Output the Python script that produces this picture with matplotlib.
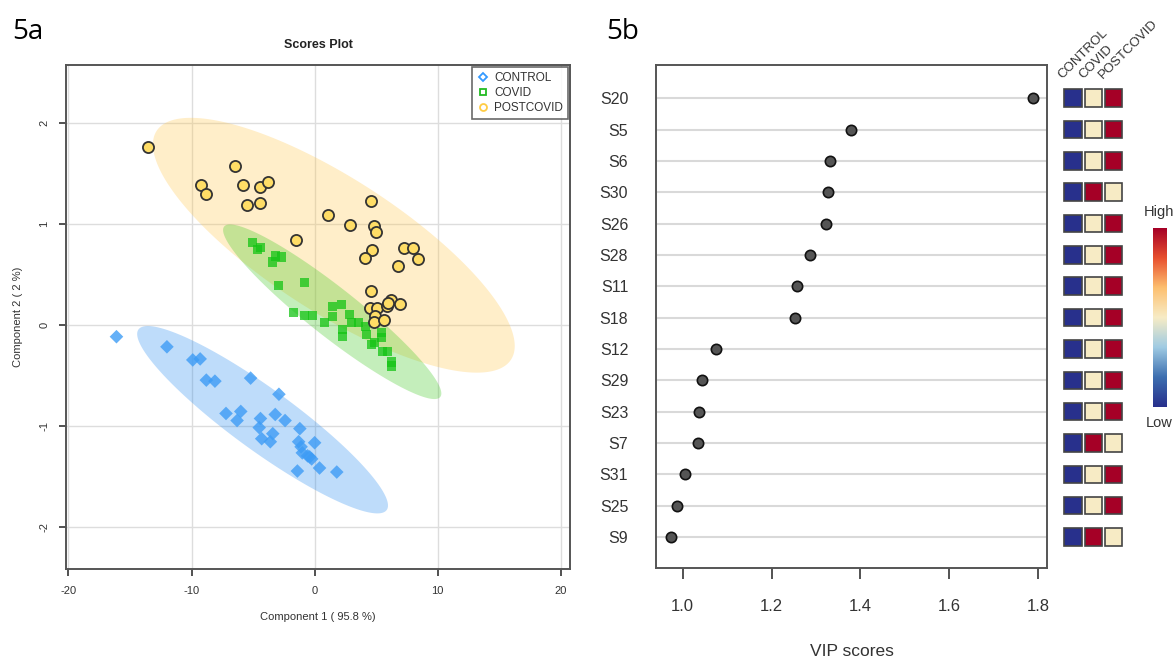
import numpy as np
import matplotlib
matplotlib.use('Agg')
import matplotlib.pyplot as plt
from matplotlib.lines import Line2D
from matplotlib.colors import LinearSegmentedColormap
from matplotlib.patches import Rectangle

plt.rcParams['font.family'] = ['Liberation Sans', 'DejaVu Sans']

# ---------------- Panel 5a data (PLS-DA scores) ----------------
control_x = [-16.1, -12.0, -9.9, -9.3, -8.8, -8.1, -5.2, -2.9, -7.2, -6.0, -6.3, -4.4,
             -3.2, -2.4, -4.5, -3.4, -4.3, -3.6, -1.2, -1.3, -1.1, -1.0, -0.57, -0.24,
             0.0, 0.4, -1.4, 1.8, -0.4]
control_y = [-0.12, -0.22, -0.35, -0.34, -0.55, -0.56, -0.53, -0.69, -0.88, -0.86, -0.95, -0.93,
             -0.89, -0.95, -1.02, -1.08, -1.13, -1.16, -1.03, -1.16, -1.21, -1.27, -1.30, -1.33,
             -1.17, -1.42, -1.45, -1.46, -1.31]

covid_x = [-5.04, -4.63, -4.4, -3.41, -2.68, -3.2, -2.93, -0.81, -1.71, -0.81, -0.16, 0.81,
           1.46, 1.46, 2.2, 2.85, 2.28, 2.28, 3.58, 4.15, 4.23, 4.88, 5.45, 5.45, 5.53, 5.93,
           6.26, 6.26, 3.0, 4.6]
covid_y = [0.81, 0.74, 0.76, 0.62, 0.67, 0.68, 0.39, 0.42, 0.12, 0.09, 0.09, 0.02,
           0.08, 0.18, 0.20, 0.10, -0.05, -0.12, 0.02, -0.02, -0.10, -0.18, -0.08, -0.13,
           -0.27, -0.27, -0.37, -0.41, 0.02, -0.20]

postcovid_x = [-13.5, -9.2, -8.8, -6.5, -5.85, -5.5, -4.4, -3.8, -4.4, -1.5, 1.1, 2.85,
               4.55, 4.8, 5.0, 4.7, 4.1, 7.3, 8.0, 8.4, 6.75, 4.55, 4.47, 5.04, 5.85, 6.18,
               6.0, 6.9, 4.9, 4.8, 5.6]
postcovid_y = [1.76, 1.38, 1.29, 1.57, 1.38, 1.18, 1.36, 1.41, 1.20, 0.84, 1.08, 0.99,
               1.22, 0.98, 0.92, 0.74, 0.66, 0.76, 0.76, 0.65, 0.58, 0.33, 0.16, 0.16, 0.18, 0.24,
               0.21, 0.20, 0.08, 0.03, 0.05]

group_names = ['CONTROL', 'COVID', 'POSTCOVID']
x_ticks_a = [-20, -10, 0, 10, 20]
y_ticks_a = [-2, -1, 0, 1, 2]

# ---------------- Panel 5b data (VIP scores) ----------------
features = ['S20', 'S5', 'S6', 'S30', 'S26', 'S28', 'S11', 'S18', 'S12', 'S29',
            'S23', 'S7', 'S31', 'S25', 'S9']
vip = [1.789, 1.378, 1.331, 1.326, 1.322, 1.287, 1.257, 1.253, 1.074, 1.043,
       1.036, 1.034, 1.006, 0.988, 0.973]
# relative group levels (0 = low, 0.5 = middle, 1 = high)
level_control = [0.0, 0.0, 0.0, 0.0, 0.0, 0.0, 0.0, 0.0, 0.0, 0.0, 0.0, 0.0, 0.0, 0.0, 0.0]
level_covid = [0.5, 0.5, 0.5, 1.0, 0.5, 0.5, 0.5, 0.5, 0.5, 0.5, 0.5, 1.0, 0.5, 0.5, 1.0]
level_postcovid = [1.0, 1.0, 1.0, 0.5, 1.0, 1.0, 1.0, 1.0, 1.0, 1.0, 1.0, 0.5, 1.0, 1.0, 0.5]
x_ticks_b = [1.0, 1.2, 1.4, 1.6, 1.8]


def conf_ellipse(x, y, n=300, chi2=5.991):
    x = np.asarray(x, float)
    y = np.asarray(y, float)
    cov = np.cov(x, y)
    vals, vecs = np.linalg.eigh(cov)
    t = np.linspace(0, 2 * np.pi, n)
    circ = np.vstack([np.cos(t), np.sin(t)]) * np.sqrt(chi2)
    pts = vecs @ (np.sqrt(vals)[:, None] * circ)
    return x.mean() + pts[0], y.mean() + pts[1]


W, H = 1174, 657
fig = plt.figure(figsize=(W / 100, H / 100), dpi=100)


def rect(l, t, r, b):
    return [l / W, 1 - b / H, (r - l) / W, (b - t) / H]


# ================= Panel a =================
ax = fig.add_axes(rect(66, 65, 570, 569))
ax.set_xlim(-20.2, 20.75)
ax.set_ylim(-2.42, 2.57)
for v in x_ticks_a:
    ax.axvline(v, color='#dddddd', lw=1.0, zorder=0)
for v in y_ticks_a:
    ax.axhline(v, color='#dddddd', lw=1.0, zorder=0)

ell_cols = [(0.16, 0.55, 0.94), (0.24, 0.78, 0.12), (1.0, 0.78, 0.30)]
groups = [(control_x, control_y), (covid_x, covid_y), (postcovid_x, postcovid_y)]
for (gx, gy), c in zip([groups[2], groups[1], groups[0]], [ell_cols[2], ell_cols[1], ell_cols[0]]):
    ex, ey = conf_ellipse(gx, gy)
    ax.fill(ex, ey, color=c, alpha=0.3, lw=0, zorder=1)

ax.scatter(control_x, control_y, marker='D', s=48, color='#3d9cf5', alpha=0.8,
           edgecolors='none', zorder=3)
ax.scatter(covid_x, covid_y, marker='s', s=44, color='#14c414', alpha=0.75,
           edgecolors='none', zorder=3)
ax.scatter(postcovid_x, postcovid_y, marker='o', s=64, color='#ffdd66',
           edgecolors='#333333', linewidths=1.3, zorder=4)

ax.set_xticks(x_ticks_a)
ax.set_xticklabels(['-20', '-10', '0', '10', '20'])
ax.set_yticks(y_ticks_a)
ax.set_yticklabels(['-2', '-1', '0', '1', '2'], rotation=90, va='center')
ax.tick_params(labelsize=8, colors='#333333', length=5, width=1.2, pad=7)
for s in ax.spines.values():
    s.set_color('#555555')
    s.set_linewidth(1.4)
ax.set_xlabel('Component 1 ( 95.8 %)', fontsize=8, color='#333333', labelpad=12)
ax.set_ylabel('Component 2 ( 2 %)', fontsize=8, color='#333333', labelpad=12)
ax.set_title('Scores Plot', fontsize=9, fontweight='bold', color='#222222', pad=12)

handles = [Line2D([], [], ls='none', marker='D', ms=4, mfc='none', mec='#3399ff', mew=1.3),
           Line2D([], [], ls='none', marker='s', ms=4, mfc='none', mec='#22bb22', mew=1.3),
           Line2D([], [], ls='none', marker='o', ms=5, mfc='none', mec='#ffcc44', mew=1.3)]
leg = ax.legend(handles, group_names, loc='upper right', fontsize=8.5, frameon=True,
                fancybox=False, borderaxespad=0.15, handletextpad=0.4, labelspacing=0.25,
                handlelength=1.0, borderpad=0.45)
leg.get_frame().set_edgecolor('#444444')
leg.get_frame().set_linewidth(1.2)
for t in leg.get_texts():
    t.set_color('#333333')

fig.text(12 / W, 1 - 32 / H, '5a', fontsize=20, family=['Open Sans', 'DejaVu Sans'],
         va='center', ha='left')
fig.text(606 / W, 1 - 32 / H, '5b', fontsize=20, family=['Open Sans', 'DejaVu Sans'],
         va='center', ha='left')

# ================= Panel b =================
n = len(features)
ypos = np.arange(n, 0, -1)  # S20 at top
bx = fig.add_axes(rect(656, 65, 1047, 568))
bx.set_xlim(0.940, 1.820)
bx.set_ylim(0.01, 16.06)
for yy in ypos:
    bx.axhline(yy, color='#d9d9d9', lw=1.5, zorder=0)
bx.scatter(vip, ypos, s=55, color='#555555', edgecolors='#111111', linewidths=1.2, zorder=3)
bx.set_yticks(ypos)
bx.set_yticklabels(features, fontsize=11.5, color='#333333')
bx.tick_params(axis='y', length=0, pad=20)
bx.set_xticks(x_ticks_b)
bx.set_xticklabels(['1.0', '1.2', '1.4', '1.6', '1.8'], fontsize=12, color='#333333')
bx.tick_params(axis='x', length=8, width=1.3, color='#444444', pad=14)
for s in bx.spines.values():
    s.set_color('#555555')
    s.set_linewidth(1.4)
bx.set_xlabel('VIP scores', fontsize=12.5, color='#333333', labelpad=22)

# heatmap of group levels
cmap = LinearSegmentedColormap.from_list(
    'vipcmap', ['#28308c', '#3d6fb0', '#9fcbe3', '#f7ecc6', '#fdc070', '#e8502f', '#a50026'])
hx = fig.add_axes(rect(1060, 65, 1127, 568))
hx.set_ylim(0.01, 16.06)
hx.set_xlim(-0.64, 2.66)
hx.axis('off')
levels = [level_control, level_covid, level_postcovid]
cw, ch = 0.86, 0.56
for j, col in enumerate(levels):
    for yy, v in zip(ypos, col):
        hx.add_patch(Rectangle((j - cw / 2, yy - ch / 2), cw, ch, facecolor=cmap(float(v)),
                               edgecolor='#444444', lw=1.2))
for j, name in enumerate(group_names):
    hx.text(j - 0.4, 15.55, name, rotation=45, rotation_mode='anchor', ha='left', va='bottom',
            fontsize=9.5, color='#333333')

# colorbar
cx = fig.add_axes(rect(1153, 228, 1167, 407))
grad = np.linspace(0, 1, 256)[:, None]
cx.imshow(grad, aspect='auto', cmap=cmap, origin='lower')
cx.set_xticks([])
cx.set_yticks([])
for s in cx.spines.values():
    s.set_visible(False)
fig.text(1159 / W, 1 - 212 / H, 'High', fontsize=10.5, ha='center', va='center', color='#333333')
fig.text(1159 / W, 1 - 423 / H, 'Low', fontsize=10.5, ha='center', va='center', color='#333333')

fig.savefig('out.png', dpi=100)
